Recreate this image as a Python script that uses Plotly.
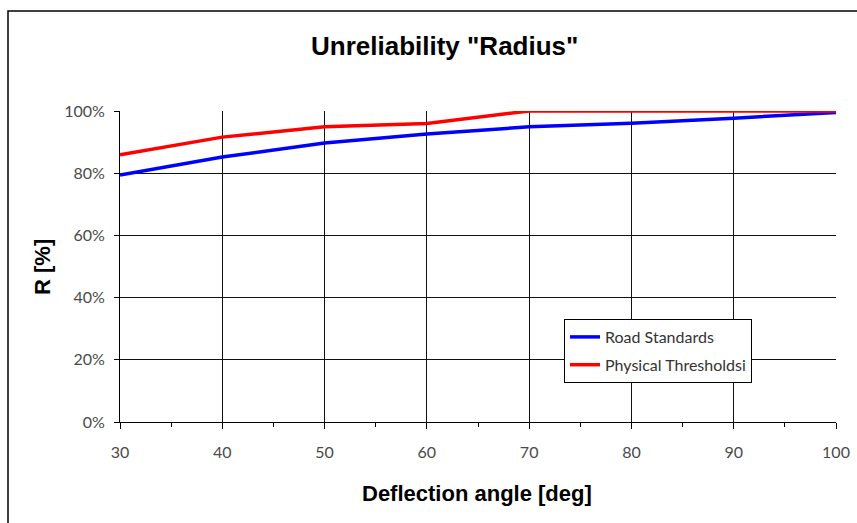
import plotly.graph_objects as go

angles = [30, 40, 50, 60, 70, 80, 90, 100]
road_standards = [79.4, 85.2, 89.7, 92.6, 94.9, 96.1, 97.7, 99.5]
physical_thresholds = [85.9, 91.6, 94.9, 96.0, 100, 100, 100, 100]
y_ticks = [0, 20, 40, 60, 80, 100]
y_tick_labels = [f"{v}%" for v in y_ticks]
x_ticks = [30, 40, 50, 60, 70, 80, 90, 100]

W, H = 857, 523
L, R, T, B = 120, 21, 111, 101
pw, ph = W - L - R, H - T - B

def px_x(x):
    return (x - L) / pw

def px_y(y):
    return (H - B - y) / ph

tick_font = dict(family="Lato, 'Open Sans', sans-serif", size=16, color="#4a4a4a")

fig = go.Figure()
fig.add_trace(go.Scatter(x=angles, y=road_standards, mode="lines", name="Road Standards",
                         legendgroup="a", line=dict(color="#0000ff", width=3.5)))
fig.add_trace(go.Scatter(x=angles, y=physical_thresholds, mode="lines", name="Physical Thresholdsi",
                         legendgroup="b", line=dict(color="#ff0000", width=3.5)))

fig.update_layout(
    width=W, height=H,
    margin=dict(l=L, r=R, t=T, b=B, autoexpand=False),
    paper_bgcolor="white", plot_bgcolor="white",
    showlegend=True,
    legend=dict(x=px_x(564), y=px_y(319), xanchor="left", yanchor="top",
                bordercolor="#000", borderwidth=1, bgcolor="white",
                font=dict(family="Lato, 'Open Sans', sans-serif", size=16, color="#333"),
                tracegroupgap=4, itemwidth=30),
    xaxis=dict(range=[30, 100], tickvals=x_ticks, ticks="outside", ticklen=6, tickcolor="#000",
               showline=True, linecolor="#000", linewidth=1, showgrid=True, gridcolor="#111", gridwidth=1,
               zeroline=False, tickfont=tick_font, ticklabelstandoff=10, automargin=False,
               minor=dict(dtick=5, tick0=0, ticks="outside", ticklen=4, tickcolor="#000", showgrid=False)),
    yaxis=dict(range=[0, 100], tickvals=y_ticks, ticktext=y_tick_labels, ticks="outside", ticklen=5,
               tickcolor="#000", showline=True, linecolor="#000", linewidth=1, showgrid=True,
               gridcolor="#111", gridwidth=1, zeroline=False, tickfont=tick_font, ticklabelstandoff=6,
               automargin=False),
    shapes=[dict(type="rect", xref="paper", yref="paper",
                 x0=px_x(8), x1=px_x(W + 50), y0=px_y(H + 50), y1=px_y(11),
                 line=dict(color="#000", width=1.5), fillcolor="rgba(0,0,0,0)", layer="below")],
    annotations=[
        dict(text='Unreliability "Radius"', xref="paper", yref="paper", x=px_x(444), y=px_y(46),
             xanchor="center", yanchor="middle", showarrow=False,
             font=dict(family="Liberation Sans, Arial, sans-serif", size=26, color="#000", weight="bold")),
        dict(text="Deflection angle [deg]", xref="paper", yref="paper", x=px_x(477), y=px_y(494),
             xanchor="center", yanchor="middle", showarrow=False,
             font=dict(family="Liberation Sans, Arial, sans-serif", size=22, color="#000", weight="bold")),
        dict(text="R [%]", xref="paper", yref="paper", x=px_x(42), y=px_y(267),
             xanchor="center", yanchor="middle", showarrow=False, textangle=-90,
             font=dict(family="Liberation Sans, Arial, sans-serif", size=22, color="#000", weight="bold")),
    ],
)

fig.write_html("out.html")
